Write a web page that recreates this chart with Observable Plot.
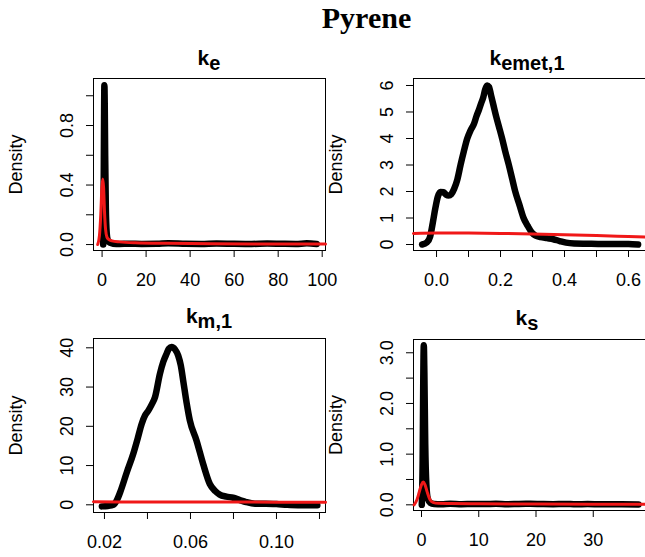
<!DOCTYPE html>
<html>
<head>
<meta charset="utf-8">
<script src="https://cdn.jsdelivr.net/npm/d3@7"></script>
<script src="https://cdn.jsdelivr.net/npm/@observablehq/plot@0.6"></script>
<style>
  html, body { margin: 0; padding: 0; background: #fff; }
  body { width: 645px; height: 557px; overflow: hidden; position: relative; font-family: "Liberation Sans", Arial, sans-serif; }
  .main { position: absolute; left: 0; top: 0; width: 733px; text-align: center; font: bold 30px/36px "Liberation Serif", serif; color: #000; }
  .ptitle { position: absolute; text-align: center; font-weight: bold; font-size: 21px; line-height: 24px; color: #000; white-space: nowrap; }
  .ptitle sub { font-size: 20px; vertical-align: -5px; line-height: 0; }
  .panel { position: absolute; }
</style>
</head>
<body>
<div class="main">Pyrene</div>
<div id="charts"></div>
<script>
// ---------- data: k_e ----------
const keBlackX = [0.5, 0.7, 0.9, 1.05, 1.2, 1.4, 1.7, 2.1, 2.6, 3.5, 5, 8, 12, 18, 25, 30, 38, 45, 52, 60, 68, 75, 82, 88, 93, 97.5];
const keBlackY = [0, 0.3, 0.85, 1.07, 0.95, 0.6, 0.25, 0.08, 0.03, 0.012, 0.006, 0.004, 0.006, 0.004, 0.005, 0.008, 0.005, 0.004, 0.007, 0.005, 0.004, 0.007, 0.005, 0.004, 0.008, 0.004];
const keRedX = [-2, -1.2, -0.6, -0.1, 0.3, 0.7, 1.1, 1.6, 2.2, 3, 4.5, 8, 15, 30, 50, 70, 90, 101.5];
const keRedY = [0, 0.06, 0.2, 0.38, 0.44, 0.38, 0.22, 0.1, 0.05, 0.035, 0.025, 0.018, 0.012, 0.008, 0.005, 0.004, 0.003, 0.003];
const keXTicks = [0, 20, 40, 60, 80, 100];
const keXLabels = ["0", "20", "40", "60", "80", "100"];
const keYTicks = [0, 0.2, 0.4, 0.6, 0.8, 1.0];
const keYLabels = ["0.0", "", "0.4", "", "0.8", ""];

// ---------- data: k_emet,1 ----------
const kemBlackX = [-0.045, -0.03, -0.02, -0.012, -0.004, 0.004, 0.012, 0.022, 0.03, 0.038, 0.046, 0.055, 0.065, 0.075, 0.085, 0.096, 0.106, 0.117, 0.125, 0.133, 0.14, 0.146, 0.152, 0.158, 0.164, 0.17, 0.178, 0.186, 0.195, 0.205, 0.215, 0.226, 0.236, 0.246, 0.259, 0.272, 0.285, 0.298, 0.31, 0.325, 0.345, 0.365, 0.385, 0.405, 0.43, 0.47, 0.52, 0.57, 0.6, 0.63];
const kemBlackY = [0.0, 0.08, 0.3, 0.8, 1.35, 1.8, 1.98, 1.97, 1.88, 1.85, 1.9, 2.1, 2.45, 3.0, 3.5, 4.0, 4.3, 4.55, 4.85, 5.1, 5.35, 5.55, 5.85, 6.0, 5.95, 5.65, 5.25, 4.85, 4.45, 4.0, 3.5, 3.0, 2.5, 2.0, 1.5, 1.0, 0.7, 0.45, 0.33, 0.28, 0.24, 0.2, 0.13, 0.07, 0.04, 0.03, 0.02, 0.02, 0.015, 0.0];
const kemRedX = [-0.072, 0.0, 0.1, 0.2, 0.3, 0.4, 0.5, 0.6, 0.68];
const kemRedY = [0.42, 0.43, 0.43, 0.42, 0.40, 0.37, 0.34, 0.30, 0.27];
const kemXTicks = [0, 0.1, 0.2, 0.3, 0.4, 0.5, 0.6];
const kemXLabels = ["0.0", "", "0.2", "", "0.4", "", "0.6"];
const kemYTicks = [0, 1, 2, 3, 4, 5, 6];
const kemYLabels = ["0", "1", "2", "3", "4", "5", "6"];

// ---------- data: k_m,1 ----------
const kmBlackX = [0.0188, 0.0215, 0.0242, 0.0258, 0.0273, 0.0304, 0.0334, 0.0355, 0.0373, 0.0389, 0.0404, 0.042, 0.0435, 0.0458, 0.0474, 0.0489, 0.05, 0.0512, 0.0528, 0.0543, 0.0555, 0.0566, 0.0582, 0.0597, 0.0628, 0.0659, 0.069, 0.0715, 0.0736, 0.0767, 0.0798, 0.083, 0.0859, 0.09, 0.095, 0.1, 0.105, 0.11, 0.115, 0.119];
const kmBlackY = [-0.4, -0.3, 0, 1.2, 3.2, 8.3, 13, 17, 20.6, 22.8, 24, 25.6, 27.4, 33.4, 36.5, 38.5, 39.8, 40.2, 39.6, 38, 35.5, 31.7, 26, 21.5, 16.4, 10.4, 5.3, 3.5, 2.6, 2.1, 1.8, 1.2, 0.7, 0.3, 0.3, 0.2, 0, -0.1, -0.1, -0.1];
const kmRedX = [0.0149, 0.04, 0.07, 0.1, 0.1228];
const kmRedY = [0.75, 0.72, 0.7, 0.68, 0.66];
const kmXTicks = [0.02, 0.04, 0.06, 0.08, 0.10, 0.12];
const kmXLabels = ["0.02", "", "0.06", "", "0.10", ""];
const kmYTicks = [0, 10, 20, 30, 40];
const kmYLabels = ["0", "10", "20", "30", "40"];

// ---------- data: k_s ----------
const ksBlackX = [0.05, 0.2, 0.3, 0.4, 0.5, 0.65, 0.85, 1.1, 1.5, 2.2, 3.5, 5, 7, 9, 11, 13, 15, 17, 19, 21, 23, 25, 27, 29, 31, 33, 35, 37.9];
const ksBlackY = [0, 0.9, 2.4, 3.15, 2.6, 1.2, 0.4, 0.12, 0.04, 0.015, 0.01, 0.02, 0.012, 0.018, 0.015, 0.02, 0.012, 0.018, 0.02, 0.015, 0.012, 0.018, 0.01, 0.015, 0.012, 0.01, 0.012, 0.008];
const ksRedX = [-1.3, -0.8, -0.4, 0, 0.3, 0.6, 1.0, 1.5, 2.0, 3, 5, 10, 20, 30, 40];
const ksRedY = [0.0, 0.1, 0.25, 0.4, 0.45, 0.4, 0.25, 0.1, 0.05, 0.03, 0.025, 0.02, 0.015, 0.012, 0.01];
const ksXTicks = [0, 10, 20, 30];
const ksXLabels = ["0", "10", "20", "30"];
const ksYTicks = [0, 0.5, 1.0, 1.5, 2.0, 2.5, 3.0];
const ksYLabels = ["0.0", "", "1.0", "", "2.0", "", "3.0"];

const zip = (xs, ys) => xs.map((x, i) => ({x, y: ys[i]}));

const panels = [
  {title: ["k", "e"], left: 0, top: 70, width: 340, height: 222, mt: 8, mb: 42, ml: 93, mr: 15,
   xDomain: [-3.9, 101.5], yDomain: [-0.04, 1.116],
   xTicks: keXTicks, xLabels: keXLabels, yTicks: keYTicks, yLabels: keYLabels,
   black: zip(keBlackX, keBlackY), red: zip(keRedX, keRedY), titleLeft: 93, titleWidth: 232, titleTop: 46},
  {title: ["k", "emet,1"], left: 320, top: 70, width: 345, height: 222, mt: 8, mb: 42, ml: 93, mr: 11.4,
   xDomain: [-0.072, 0.68], yDomain: [-0.226, 6.264],
   xTicks: kemXTicks, xLabels: kemXLabels, yTicks: kemYTicks, yLabels: kemYLabels,
   black: zip(kemBlackX, kemBlackY), red: zip(kemRedX, kemRedY), titleLeft: 413, titleWidth: 228, titleTop: 46},
  {title: ["k", "m,1"], left: 0, top: 330, width: 340, height: 222, mt: 8, mb: 40, ml: 93, mr: 15,
   xDomain: [0.0149, 0.1228], yDomain: [-1.96, 42.37],
   xTicks: kmXTicks, xLabels: kmXLabels, yTicks: kmYTicks, yLabels: kmYLabels,
   black: zip(kmBlackX, kmBlackY), red: zip(kmRedX, kmRedY), titleLeft: 93, titleWidth: 232, titleTop: 304},
  {title: ["k", "s"], left: 320, top: 330, width: 345, height: 222, mt: 9, mb: 42, ml: 93, mr: 15,
   xDomain: [-1.4, 40], yDomain: [-0.112, 3.262],
   xTicks: ksXTicks, xLabels: ksXLabels, yTicks: ksYTicks, yLabels: ksYLabels,
   black: zip(ksBlackX, ksBlackY), red: zip(ksRedX, ksRedY), titleLeft: 413, titleWidth: 228, titleTop: 306}
];

const root = document.getElementById("charts");
for (const p of panels) {
  const chart = Plot.plot({
    width: p.width, height: p.height,
    marginTop: p.mt, marginBottom: p.mb, marginLeft: p.ml, marginRight: p.mr,
    x: {domain: p.xDomain},
    y: {domain: p.yDomain},
    style: {fontFamily: "'Liberation Sans', Arial, sans-serif", fontSize: "18px", color: "#000", background: "transparent", maxWidth: "none", overflow: "visible"},
    marks: [
      Plot.axisX({ticks: p.xTicks, tickSize: 7, tickPadding: 16, strokeWidth: 1, fontSize: 18,
                  tickFormat: d => p.xLabels[p.xTicks.indexOf(d)] ?? "", label: null}),
      Plot.axisY({ticks: p.yTicks, tickSize: 7, tickPadding: 14, tickRotate: -90, strokeWidth: 1, fontSize: 18,
                  tickFormat: d => p.yLabels[p.yTicks.indexOf(d)] ?? "",
                  label: "Density", labelAnchor: "center", labelOffset: 84, labelArrow: "none"}),
      Plot.frame({stroke: "#000", strokeWidth: 1}),
      Plot.line(p.black, {x: "x", y: "y", stroke: "#000", strokeWidth: 6.5, curve: "monotone-x"}),
      Plot.line(p.red, {x: "x", y: "y", stroke: "#f01818", strokeWidth: 3, curve: "monotone-x"})
    ]
  });
  d3.select(chart).selectAll("text")
    .filter(function () { return this.textContent.trim() === "Density"; })
    .style("font-size", "18px");
  const div = document.createElement("div");
  div.className = "panel";
  div.style.left = p.left + "px";
  div.style.top = p.top + "px";
  div.style.width = p.width + "px";
  div.appendChild(chart);
  root.appendChild(div);

  const t = document.createElement("div");
  t.className = "ptitle";
  t.style.left = p.titleLeft + "px";
  t.style.width = p.titleWidth + "px";
  t.style.top = p.titleTop + "px";
  t.innerHTML = p.title[0] + "<sub>" + p.title[1] + "</sub>";
  document.body.appendChild(t);
}
</script>
</body>
</html>
